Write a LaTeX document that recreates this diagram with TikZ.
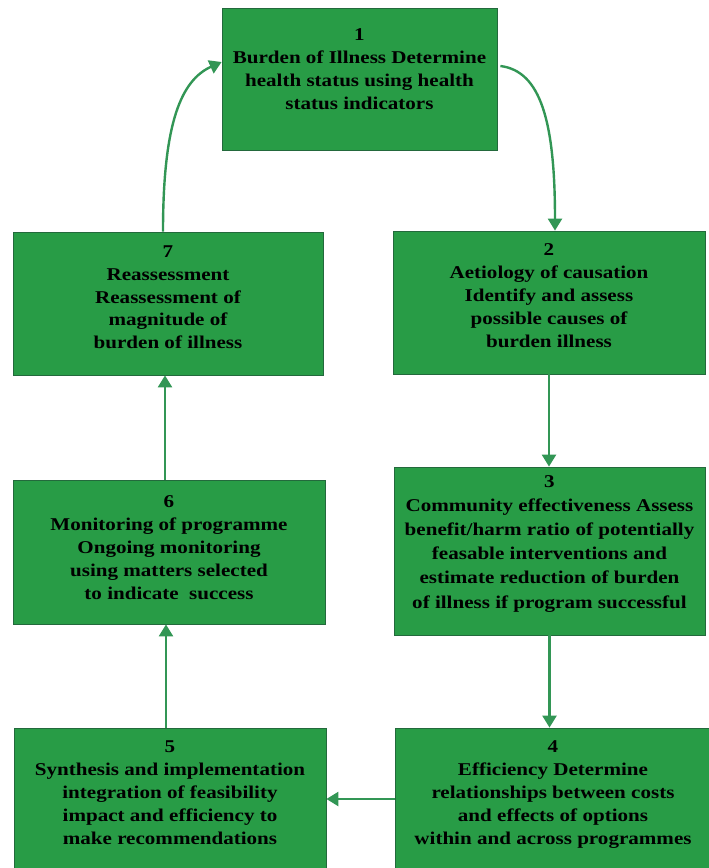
\documentclass[tikz,border=0pt]{standalone}
\usepackage{fontspec}
\setmainfont{Liberation Serif}[FakeStretch=1.17]
\usetikzlibrary{arrows.meta}

\definecolor{boxverde}{RGB}{40,156,70}
\definecolor{bordoverde}{RGB}{35,105,60}
\definecolor{frecciaverde}{RGB}{50,150,85}
% profondita' extra sotto l'ultima riga (alza il testo)
\newcommand{\alza}[1]{\rule[-#1]{0pt}{#1}}

\tikzset{
  passo/.style={draw=bordoverde, line width=0.8pt, fill=boxverde,
    align=center, inner sep=0pt,
    font=\bfseries\fontsize{18}{23}\selectfont},
  freccia/.style={draw=frecciaverde, line width=2.4pt,
    -{Triangle[length=12pt,width=14pt]}},
}

\begin{document}
\begin{tikzpicture}[x=1pt, y=-1pt]
  \useasboundingbox (0,0) rectangle (709,868);

  % riquadri
  \node[passo, minimum width=275pt, minimum height=142pt] (b1) at (359.5,79)
    {1\\Burden of Illness Determine\\health status using health\\status indicators\alza{20.8pt}};
  \node[passo, minimum width=312pt, minimum height=143pt] (b2) at (549,302.5)
    {2\\Aetiology of causation\\Identify and assess\\possible causes of\\burden illness\alza{14.8pt}};
  \node[passo, minimum width=311pt, minimum height=168pt,
    font=\bfseries\fontsize{18}{24.2}\selectfont] (b3) at (549.5,551)
    {3\\Community effectiveness Assess\\benefit/harm ratio of potentially\\feasable interventions and\\estimate reduction of burden\\of illness if program successful\alza{18.8pt}};
  \node[passo, minimum width=316pt, minimum height=142pt] (b4) at (553,799)
    {4\\Efficiency Determine\\relationships between costs\\and effects of options\\within and across programmes\alza{13.8pt}};
  \node[passo, minimum width=312pt, minimum height=142pt] (b5) at (170,799)
    {5\\Synthesis and implementation\\integration of feasibility\\impact and efficiency to\\make recommendations\alza{13.8pt}};
  \node[passo, minimum width=312pt, minimum height=144pt] (b6) at (169,552)
    {6\\Monitoring of programme\\Ongoing monitoring\\using matters selected\\to indicate \ success\alza{9.8pt}};
  \node[passo, minimum width=310pt, minimum height=143pt] (b7) at (168,303.5)
    {7\\Reassessment\\Reassessment of\\magnitude of\\burden of illness\alza{12.8pt}};

  % punti di attacco
  \coordinate (p1a) at ([xshift=3pt,yshift=13pt]b1.east);
  \coordinate (p1b) at ([yshift=17pt]b1.west);
  \coordinate (p2) at ([xshift=6pt]b2.north);
  \coordinate (p5) at ([xshift=-4pt]b5.north);
  \coordinate (p6) at ([xshift=-4pt]b6.north);
  \coordinate (p7) at ([xshift=-5pt]b7.north);

  % frecce
  \draw[freccia] (p1a) .. controls +(40,5) and +(0,-110) .. (p2);
  \draw[freccia] (b2.south) -- (b2.south |- b3.north);
  \draw[freccia] (b3.south) -- (b3.south |- b4.north);
  \draw[freccia] (b4.west) -- (b5.east);
  \draw[freccia] (p5) -- (p5 |- b6.south);
  \draw[freccia] (p6) -- (p6 |- b7.south);
  \draw[freccia] (p7) .. controls +(0,-110) and +(-40,18) .. (p1b);
\end{tikzpicture}
\end{document}
